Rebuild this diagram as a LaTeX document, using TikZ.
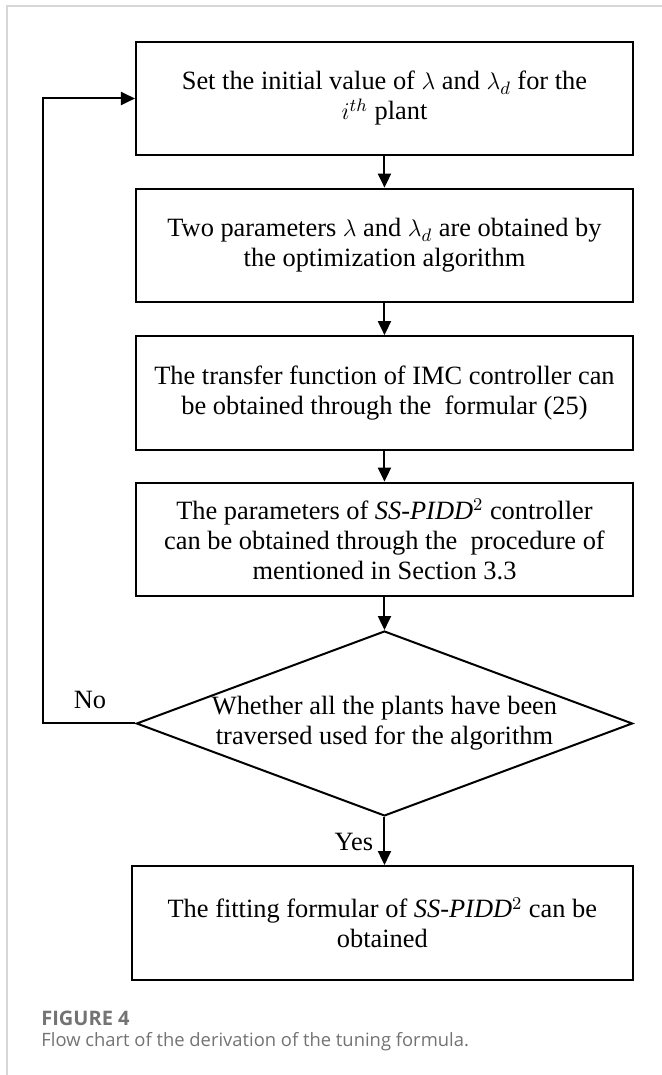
\documentclass[tikz,border=0pt]{standalone}
\usepackage{fontspec}
\setmainfont{Liberation Serif}
\newfontfamily\capfont{Open Sans}
\usepackage{xcolor}
\definecolor{capgray}{RGB}{115,115,115}
\definecolor{framegray}{RGB}{215,215,215}
\usetikzlibrary{arrows.meta,positioning,shapes.geometric,calc}

\begin{document}
\begin{tikzpicture}[
  stepbox/.style={draw,line width=1pt,minimum width=8.735cm,minimum height=2cm,align=center,font=\fontsize{13.2}{15}\selectfont,inner sep=2pt},
  decide/.style={diamond,draw,line width=1pt,aspect=2.68,minimum width=8.72cm,minimum height=3.25cm,inner sep=0pt,align=center,font=\fontsize{13.2}{15}\selectfont},
  arr/.style={line width=1pt,-{Triangle[length=7pt,width=6.5pt]}},
  lbl/.style={font=\fontsize{13.2}{15}\selectfont,inner sep=1pt}]
  \useasboundingbox (0,0) rectangle (11.634,-18.893);
  % Page frame
  \draw[framegray,line width=0.75pt] (0.123,-18.893) -- (0.123,-0.105) -- (11.634,-0.105);
  % Steps
  \node[stepbox] (init) at (6.757,-1.731) {Set the initial value of $\lambda$ and $\lambda_d$ for the\\ $i^{th}$ plant};
  \node[stepbox] (opt) at (6.757,-4.315) {Two parameters $\lambda$ and $\lambda_d$ are obtained by\\ the optimization algorithm};
  \node[stepbox] (imc) at (6.757,-6.907) {The transfer function of IMC controller can\\ be obtained through the\ \ formular (25)};
  \node[stepbox] (pidd) at (6.757,-9.482) {The parameters of \textit{SS-PIDD}$^2$ controller\\ can be obtained through the\ \ procedure of\\ mentioned in Section 3.3};
  \node[decide] (check) at (6.757,-12.715) {Whether all the plants have been\\ traversed used for the algorithm};
  \node[stepbox,minimum width=8.8cm] (fit) at (6.72,-16.22) {The fitting formular of \textit{SS-PIDD}$^2$ can be\\ obtained};
  % Arrows
  \draw[arr] (init) -- (opt);
  \draw[arr] (opt) -- (imc);
  \draw[arr] (imc) -- (pidd);
  \draw[arr] (pidd) -- (check);
  \draw[arr] (check.south) -- (check.south |- fit.north);
  % Loop back
  \coordinate (back) at (0.756,-12.715);
  \draw[arr] (check.west) -- (back) |- (init.west);
  \node[lbl] (no) at (1.58,-12.3) {No};
  \node[lbl,anchor=east] (yes) at (6.6,-14.8) {Yes};
  % Caption
  \node[anchor=west,font=\capfont\bfseries\fontsize{10}{12}\selectfont,text=capgray,inner sep=0pt] (fig) at (0.72,-17.89) {FIGURE 4};
  \node[anchor=west,font=\capfont\fontsize{9.2}{11}\selectfont,text=capgray,inner sep=0pt] (cap) at (0.72,-18.3) {Flow chart of the derivation of the tuning formula.};
\end{tikzpicture}
\end{document}
